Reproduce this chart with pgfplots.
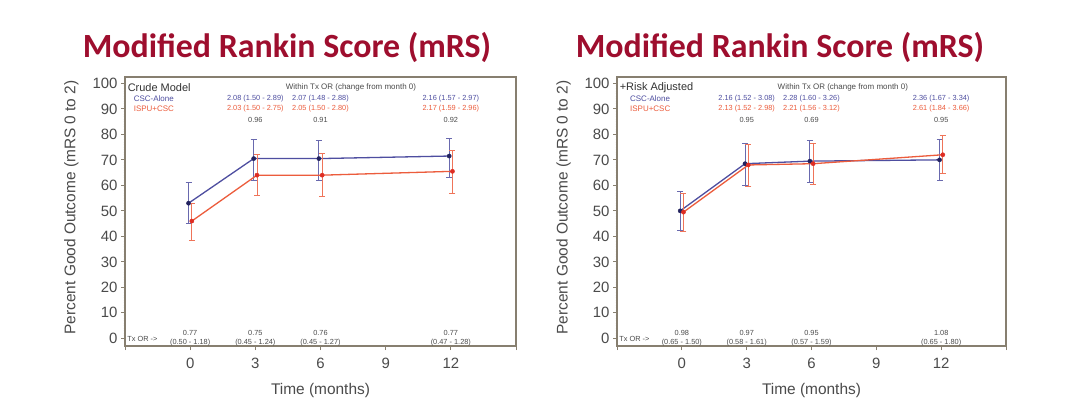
\documentclass[border=0pt]{standalone}
\usepackage{pgfplots}
\pgfplotsset{compat=1.18}
\usepackage{fontspec}
\setmainfont{Liberation Sans}
\newfontfamily\titlefont{Carlito}

\definecolor{cscblue}{RGB}{78,78,160}
\definecolor{cscmark}{RGB}{35,35,95}
\definecolor{ispured}{RGB}{236,92,60}
\definecolor{ispumark}{RGB}{222,45,35}
\definecolor{titlered}{RGB}{158,14,46}
\definecolor{framecol}{RGB}{135,127,112}
\definecolor{txtgray}{RGB}{75,75,75}

\tikzset{ann/.style={font=\fontsize{7.4}{8.5}\selectfont, inner sep=0pt},
  lab/.style={font=\fontsize{8}{9}\selectfont, inner sep=0pt}}

\pgfplotsset{
  mrs/.style={
    scale only axis, height=269bp, anchor=south west,
    xmin=-3, xmax=15, ymin=-3, ymax=102.5,
    xtick={-3,0,3,6,9,12,15}, xticklabels={{},0,3,6,9,12,{}},
    ytick={0,10,...,100}, minor y tick num=9,
    xtick pos=bottom, ytick pos=left,
    tick align=outside, major tick length=4bp, minor tick length=1.5bp,
    axis line style={framecol, line width=1.1bp},
    every tick/.style={framecol, line width=0.9bp},
    tick label style={font=\fontsize{15}{18}\selectfont, text=txtgray},
    xticklabel style={yshift=-5bp},
    /pgf/number format/assume math mode=true,
    label style={font=\fontsize{15.5}{18}\selectfont, text=txtgray},
    xlabel={Time (months)},
    xlabel style={at={(axis description cs:0.5,-0.166)}, anchor=center},
    ylabel={Percent Good Outcome (mRS 0 to 2)},
    ylabel style={at={(axis description cs:-0.137,0.515)}, anchor=center},
    clip=false,
  },
  csc/.style={color=cscblue, line width=1.3bp, mark=*, mark size=2.1bp,
    mark options={fill=cscmark, draw=cscmark, line width=0.4bp},
    error bars/.cd, y dir=both, y explicit,
    error bar style={color=cscblue!85!white, line width=0.9bp},
    error mark options={rotate=90, mark size=3bp, color=cscblue!85!white, line width=0.9bp}},
  ispu/.style={color=ispured, line width=1.3bp, mark=*, mark size=2.1bp,
    mark options={fill=ispumark, draw=ispumark, line width=0.4bp},
    error bars/.cd, y dir=both, y explicit,
    error bar style={color=ispured!85!white, line width=0.9bp},
    error mark options={rotate=90, mark size=3bp, color=ispured!85!white, line width=0.9bp}},
}

\begin{document}
\begin{tikzpicture}[x=1bp, y=1bp]
\path[fill=white, use as bounding box] (0,0) rectangle (1080,411);

\node[anchor=base, text=titlered, font=\titlefont\bfseries\fontsize{34}{40}\selectfont] at (287,354) {Modified Rankin Score (mRS)};
\node[anchor=base, text=titlered, font=\titlefont\bfseries\fontsize{34}{40}\selectfont] at (780,354) {Modified Rankin Score (mRS)};

% Crude model
\begin{axis}[mrs, width=391bp, at={(125bp,65bp)}]
\addplot+[csc] coordinates {
  (-0.075,53)   += (0,8)   -= (0,8)
  (2.925,70.5)  += (0,7.5) -= (0,8.5)
  (5.925,70.5)  += (0,7)   -= (0,8.5)
  (11.925,71.5) += (0,7)   -= (0,8.5)
};
\addplot+[ispu] coordinates {
  (0.075,46)    += (0,7)   -= (0,7.5)
  (3.075,64)    += (0,8)   -= (0,8)
  (6.075,64)    += (0,8.5) -= (0,8.5)
  (12.075,65.5) += (0,8)   -= (0,8.5)
};
\node[ann, anchor=west, font=\fontsize{11}{12}\selectfont, text=black!80] at (axis cs:-2.88,98.4) {Crude Model};
\node[lab, text=txtgray] at (axis cs:7.4,98.4) {Within Tx OR (change from month 0)};
\node[lab, anchor=west, text=cscblue] at (axis cs:-2.6,94.2) {CSC-Alone};
\node[lab, anchor=west, text=ispured] at (axis cs:-2.6,90.2) {ISPU+CSC};
\node[ann, text=cscblue] at (axis cs:3,94.2) {2.08 (1.50 - 2.89)};
\node[ann, text=cscblue] at (axis cs:6,94.2) {2.07 (1.48 - 2.88)};
\node[ann, text=cscblue] at (axis cs:12,94.2) {2.16 (1.57 - 2.97)};
\node[ann, text=ispured] at (axis cs:3,90.2) {2.03 (1.50 - 2.75)};
\node[ann, text=ispured] at (axis cs:6,90.2) {2.05 (1.50 - 2.80)};
\node[ann, text=ispured] at (axis cs:12,90.2) {2.17 (1.59 - 2.96)};
\node[ann, text=txtgray] at (axis cs:3,85.8) {0.96};
\node[ann, text=txtgray] at (axis cs:6,85.8) {0.91};
\node[ann, text=txtgray] at (axis cs:12,85.8) {0.92};
\node[ann, anchor=west, text=txtgray] at (axis cs:-2.9,-0.4) {Tx OR ->};
\node[ann, text=txtgray] at (axis cs:0,2.0) {0.77};
\node[ann, text=txtgray] at (axis cs:0,-1.5) {(0.50 - 1.18)};
\node[ann, text=txtgray] at (axis cs:3,2.0) {0.75};
\node[ann, text=txtgray] at (axis cs:3,-1.5) {(0.45 - 1.24)};
\node[ann, text=txtgray] at (axis cs:6,2.0) {0.76};
\node[ann, text=txtgray] at (axis cs:6,-1.5) {(0.45 - 1.27)};
\node[ann, text=txtgray] at (axis cs:12,2.0) {0.77};
\node[ann, text=txtgray] at (axis cs:12,-1.5) {(0.47 - 1.28)};
\end{axis}

% Risk adjusted
\begin{axis}[mrs, width=389bp, at={(617bp,65bp)}]
\addplot+[csc] coordinates {
  (-0.075,50)   += (0,7.5) -= (0,7.5)
  (2.925,68.5)  += (0,8)   -= (0,8.5)
  (5.925,69.5)  += (0,8)   -= (0,8.5)
  (11.925,70)   += (0,8)   -= (0,8)
};
\addplot+[ispu] coordinates {
  (0.075,49.5)  += (0,7.5) -= (0,7.5)
  (3.075,68)    += (0,8)   -= (0,8.5)
  (6.075,68.5)  += (0,8)   -= (0,8)
  (12.075,72)   += (0,7.5) -= (0,7.5)
};
\node[ann, anchor=west, font=\fontsize{11}{12}\selectfont, text=black!80] at (axis cs:-2.88,98.4) {+Risk Adjusted};
\node[lab, text=txtgray] at (axis cs:7.45,98.4) {Within Tx OR (change from month 0)};
\node[lab, anchor=west, text=cscblue] at (axis cs:-2.4,94.2) {CSC-Alone};
\node[lab, anchor=west, text=ispured] at (axis cs:-2.4,90.2) {ISPU+CSC};
\node[ann, text=cscblue] at (axis cs:3,94.2) {2.16 (1.52 - 3.08)};
\node[ann, text=cscblue] at (axis cs:6,94.2) {2.28 (1.60 - 3.26)};
\node[ann, text=cscblue] at (axis cs:12,94.2) {2.36 (1.67 - 3.34)};
\node[ann, text=ispured] at (axis cs:3,90.2) {2.13 (1.52 - 2.98)};
\node[ann, text=ispured] at (axis cs:6,90.2) {2.21 (1.56 - 3.12)};
\node[ann, text=ispured] at (axis cs:12,90.2) {2.61 (1.84 - 3.66)};
\node[ann, text=txtgray] at (axis cs:3,85.8) {0.95};
\node[ann, text=txtgray] at (axis cs:6,85.8) {0.69};
\node[ann, text=txtgray] at (axis cs:12,85.8) {0.95};
\node[ann, anchor=west, text=txtgray] at (axis cs:-2.9,-0.4) {Tx OR ->};
\node[ann, text=txtgray] at (axis cs:0,2.0) {0.98};
\node[ann, text=txtgray] at (axis cs:0,-1.5) {(0.65 - 1.50)};
\node[ann, text=txtgray] at (axis cs:3,2.0) {0.97};
\node[ann, text=txtgray] at (axis cs:3,-1.5) {(0.58 - 1.61)};
\node[ann, text=txtgray] at (axis cs:6,2.0) {0.95};
\node[ann, text=txtgray] at (axis cs:6,-1.5) {(0.57 - 1.59)};
\node[ann, text=txtgray] at (axis cs:12,2.0) {1.08};
\node[ann, text=txtgray] at (axis cs:12,-1.5) {(0.65 - 1.80)};
\end{axis}
\end{tikzpicture}
\end{document}
